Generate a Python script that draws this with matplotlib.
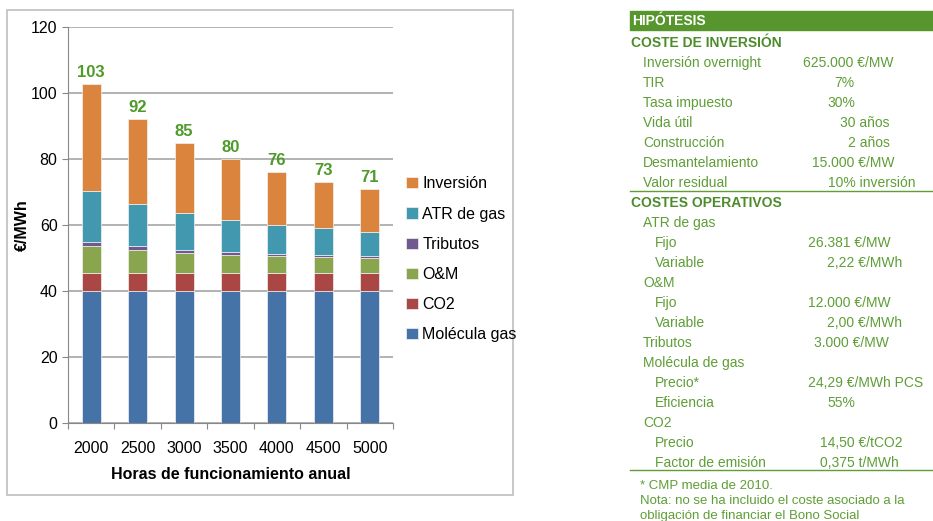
import matplotlib.pyplot as plt
from matplotlib.patches import Rectangle
from matplotlib.lines import Line2D

plt.rcParams['font.family'] = ['Liberation Sans', 'DejaVu Sans']

# Data (EUR/MWh)
horas = ['2000', '2500', '3000', '3500', '4000', '4500', '5000']
molecula_gas = [40.1, 40.1, 40.1, 40.1, 40.1, 40.1, 40.1]
co2 = [5.4, 5.4, 5.4, 5.4, 5.4, 5.4, 5.4]
o_m = [8.0, 6.8, 6.0, 5.4, 5.0, 4.7, 4.4]
tributos = [1.5, 1.2, 1.0, 0.9, 0.8, 0.7, 0.6]
atr_gas = [15.4, 12.8, 11.0, 9.8, 8.8, 8.1, 7.5]
inversion = [32.3, 25.8, 21.3, 18.5, 16.1, 14.1, 12.8]

series = [
    ('Molécula gas', molecula_gas, '#4572A7'),
    ('CO2', co2, '#AA4643'),
    ('O&M', o_m, '#89A54E'),
    ('Tributos', tributos, '#71588F'),
    ('ATR de gas', atr_gas, '#4198AF'),
    ('Inversión', inversion, '#DB843D'),
]

# Side table: label, value, x of value in px
tabla_inversion = [
    ('Inversión overnight', '625.000 €/MW', 803),
    ('TIR', '7%', 834),
    ('Tasa impuesto', '30%', 827),
    ('Vida útil', '30 años', 840),
    ('Construcción', '2 años', 848),
    ('Desmantelamiento', '15.000 €/MW', 812),
    ('Valor residual', '10% inversión', 828),
]
tabla_operativos = [
    ('ATR de gas', '', 1, 0),
    ('Fijo', '26.381 €/MW', 2, 808),
    ('Variable', '2,22 €/MWh', 2, 827),
    ('O&M', '', 1, 0),
    ('Fijo', '12.000 €/MW', 2, 808),
    ('Variable', '2,00 €/MWh', 2, 827),
    ('Tributos', '3.000 €/MW', 1, 814),
    ('Molécula de gas', '', 1, 0),
    ('Precio*', '24,29 €/MWh PCS', 2, 808),
    ('Eficiencia', '55%', 2, 827),
    ('CO2', '', 1, 0),
    ('Precio', '14,50 €/tCO2', 2, 820),
    ('Factor de emisión', '0,375 t/MWh', 2, 820),
]
notas = ['* CMP media de 2010.',
         'Nota: no se ha incluido el coste asociado a la',
         'obligación de financiar el Bono Social']

W, H = 933, 521
fig = plt.figure(figsize=(W / 100, H / 100), dpi=100)


def fx(x):
    return x / W


def fy(y):
    return 1 - y / H


# chart frame
fig.patches.append(Rectangle((fx(7), fy(495)), fx(506), (495 - 10) / H,
                             transform=fig.transFigure, fill=False,
                             edgecolor='#bfbfbf', linewidth=1.2))

ax = fig.add_axes([fx(68), fy(423), fx(325), 396 / H])
x = range(len(horas))
bottom = [0] * len(horas)
handles = []
for name, vals, color in series:
    b = ax.bar(x, vals, bottom=bottom, width=0.41, color=color,
               edgecolor='#f2f2f2', linewidth=0.5, label=name)
    handles.append(b)
    bottom = [a + v for a, v in zip(bottom, vals)]

for i, tot in enumerate(bottom):
    ax.text(i, tot + 1.2, f'{tot:.0f}', ha='center', va='bottom',
            color='#4E9A2A', fontsize=12, fontweight='bold')

ax.set_ylim(0, 120)
ax.set_xlim(-0.5, len(horas) - 0.5)
ax.set_yticks(range(0, 121, 20))
ax.set_xticks([i - 0.5 for i in range(len(horas) + 1)])
ax.set_xticklabels([])
ax.set_xticks(list(x), minor=True)
ax.set_xticklabels(horas, minor=True)
ax.tick_params(axis='x', which='major', length=4, color='#888888')
ax.tick_params(axis='x', which='minor', length=0, pad=13, labelsize=11.5)
ax.tick_params(axis='y', length=4, color='#888888', labelsize=11.5)
ax.grid(axis='y', color='#a6a6a6', linewidth=1.2)
ax.set_axisbelow(True)
for s in ['top', 'right']:
    ax.spines[s].set_visible(False)
for s in ['left', 'bottom']:
    ax.spines[s].set_color('#888888')
ax.set_ylabel('€/MWh', fontsize=11.5, fontweight='bold')
ax.yaxis.set_label_coords(-(68 - 30) / 325, 0.5)
ax.set_xlabel('Horas de funcionamiento anual', fontsize=11.5,
              fontweight='bold', labelpad=8)

fig.legend(handles[::-1], [s[0] for s in series][::-1], loc='upper left',
           bbox_to_anchor=(fx(400), fy(170)), frameon=False, fontsize=11.5,
           handlelength=0.7, handleheight=0.7, handletextpad=0.3,
           labelspacing=0.95, borderaxespad=0)

# right-hand table
green = '#5E9E36'
dark = '#4C8C2B'
fig.patches.append(Rectangle((fx(630), fy(30)), fx(303), 19 / H,
                             transform=fig.transFigure, color='#56962C'))
fig.text(fx(632), fy(21), 'HIPÓTESIS', color='white', fontsize=10,
         fontweight='bold', va='center')
fig.text(fx(631), fy(43), 'COSTE DE INVERSIÓN', color=dark, fontsize=10,
         fontweight='bold', va='center')
y = 63
for label, val, vx in tabla_inversion:
    fig.text(fx(643), fy(y), label, color=green, fontsize=10, va='center')
    fig.text(fx(vx), fy(y), val, color=green, fontsize=10, va='center')
    y += 20
fig.lines.append(Line2D([fx(630), fx(933)], [fy(190.5), fy(190.5)],
                        transform=fig.transFigure, color=green, linewidth=1))
fig.text(fx(631), fy(203), 'COSTES OPERATIVOS', color=dark, fontsize=10,
         fontweight='bold', va='center')
y = 223
for label, val, level, vx in tabla_operativos:
    lx = 643 if level == 1 else 655
    fig.text(fx(lx), fy(y), label, color=green, fontsize=10, va='center')
    if val:
        fig.text(fx(vx), fy(y), val, color=green, fontsize=10, va='center')
    y += 20
fig.lines.append(Line2D([fx(630), fx(933)], [fy(469.5), fy(469.5)],
                        transform=fig.transFigure, color=green, linewidth=1))
for t, yy in zip(notas, [486, 501, 516]):
    fig.text(fx(640), fy(yy), t, color=green, fontsize=9.5, va='center')

fig.savefig('out.png', dpi=100)
